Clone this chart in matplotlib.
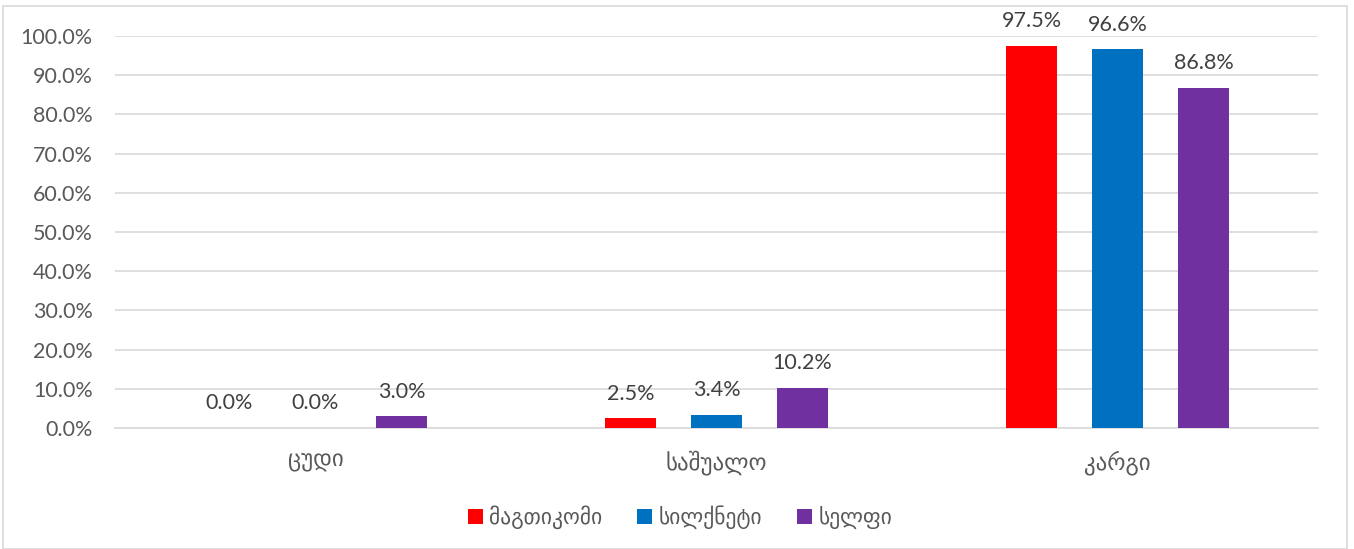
import matplotlib
matplotlib.use("Agg")
import matplotlib.pyplot as plt
from matplotlib.patches import Rectangle
import numpy as np

categories = ["ცუდი", "საშუალო", "კარგი"]
series_names = ["მაგთიკომი", "სილქნეტი", "სელფი"]
magticom = [0.0, 2.5, 97.5]
silknet = [0.0, 3.4, 96.6]
selfi = [3.0, 10.2, 86.8]
colors = ["#FF0000", "#0070C0", "#7030A0"]
yticks = [0, 10, 20, 30, 40, 50, 60, 70, 80, 90, 100]

plt.rcParams['font.family'] = ['Lato', 'DejaVu Sans']
text_color = "#595959"

fig = plt.figure(figsize=(13.54, 5.49), dpi=100)
fig.patches.append(Rectangle((3/1354, 0.0), 1344/1354, 1 - 6/549, transform=fig.transFigure,
                             fill=False, edgecolor="#D9D9D9", linewidth=1.2, zorder=0))
ax = fig.add_axes([115/1354, (549-428)/549, (1318-115)/1354, (428-36)/549])

x = np.arange(len(categories))
width = 0.125
offset = 0.2145
all_series = [magticom, silknet, selfi]
for i, (vals, name, c) in enumerate(zip(all_series, series_names, colors)):
    pos = x + (i - 1) * offset
    ax.bar(pos, vals, width=width, color=c, label=name, zorder=3)
    for p, v in zip(pos, vals):
        ax.text(p, v + 6.3, f"{v:.1f}%", ha="center", va="center",
                fontsize=15.5, color="#404040")

ax.set_xlim(-0.5, 2.5)
ax.set_ylim(0, 100)
ax.set_yticks(yticks)
ax.set_yticklabels([f"{t:.1f}%" for t in yticks], fontsize=15.5, color=text_color)
ax.set_xticks(x)
ax.set_xticklabels(categories, fontsize=16.5, color=text_color)
ax.tick_params(axis='both', length=0)
ax.tick_params(axis='y', pad=16)
ax.tick_params(axis='x', pad=16)
ax.grid(axis='y', color="#D9D9D9", linewidth=1.2, zorder=0)
for s in ["top", "right", "left"]:
    ax.spines[s].set_visible(False)
ax.spines["bottom"].set_color("#D9D9D9")
ax.spines["bottom"].set_linewidth(1.2)

leg = fig.legend(loc="center", bbox_to_anchor=(680/1354, (549-517)/549), ncol=3,
                 frameon=False, fontsize=15.5, handlelength=0.7, handleheight=0.7,
                 handletextpad=0.3, columnspacing=1.6)
for t in leg.get_texts():
    t.set_color(text_color)

fig.savefig("out.png", dpi=100)
